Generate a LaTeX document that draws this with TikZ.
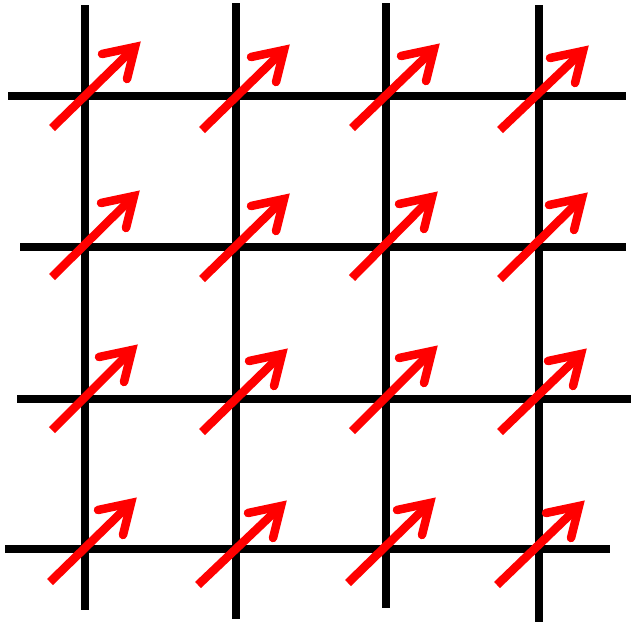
\documentclass[tikz,border=0pt]{standalone}
\begin{document}
\begin{tikzpicture}[x=1pt,y=-1pt,
  gridline/.style={line width=7.5pt,black,line cap=butt},
  shaft/.style={line width=8.5pt,red,line cap=butt},
  head/.style={line width=8.5pt,red,line cap=round,line join=miter,miter limit=10}]
\useasboundingbox (0,0) rectangle (631,622);
% grid lines
\draw[gridline] (85,5) -- (85,610);
\draw[gridline] (236,3) -- (236,619);
\draw[gridline] (386,3) -- (386,608);
\draw[gridline] (539,5) -- (539,622);
\draw[gridline] (8,96) -- (626,96);
\draw[gridline] (20,247) -- (626,247);
\draw[gridline] (17,399) -- (631,399);
\draw[gridline] (5,549) -- (610,549);
% arrows: tail x, tail y, tip x, tip y
\newcommand{\spinarrow}[4]{%
  \coordinate (t) at (#1,#2);
  \coordinate (v) at ({#3-6},{#4+6});
  \draw[shaft] (t) -- (v);
  \draw[head] ([shift={(-33,7)}]v) -- (v) -- ([shift={(-8,32)}]v);
}
\spinarrow{52}{128}{141}{41}
\spinarrow{202}{130}{290}{44}
\spinarrow{352}{128}{440}{43}
\spinarrow{500}{130}{589}{45}
\spinarrow{52}{277}{140}{190}
\spinarrow{202}{279}{290}{193}
\spinarrow{352}{278}{438}{191}
\spinarrow{500}{279}{588}{192}
\spinarrow{52}{430}{138}{344}
\spinarrow{202}{432}{288}{348}
\spinarrow{352}{431}{438}{345}
\spinarrow{500}{432}{587}{348}
\spinarrow{50}{582}{137}{497}
\spinarrow{198}{585}{287}{500}
\spinarrow{348}{583}{436}{497}
\spinarrow{497}{585}{585}{500}
\end{tikzpicture}
\end{document}
